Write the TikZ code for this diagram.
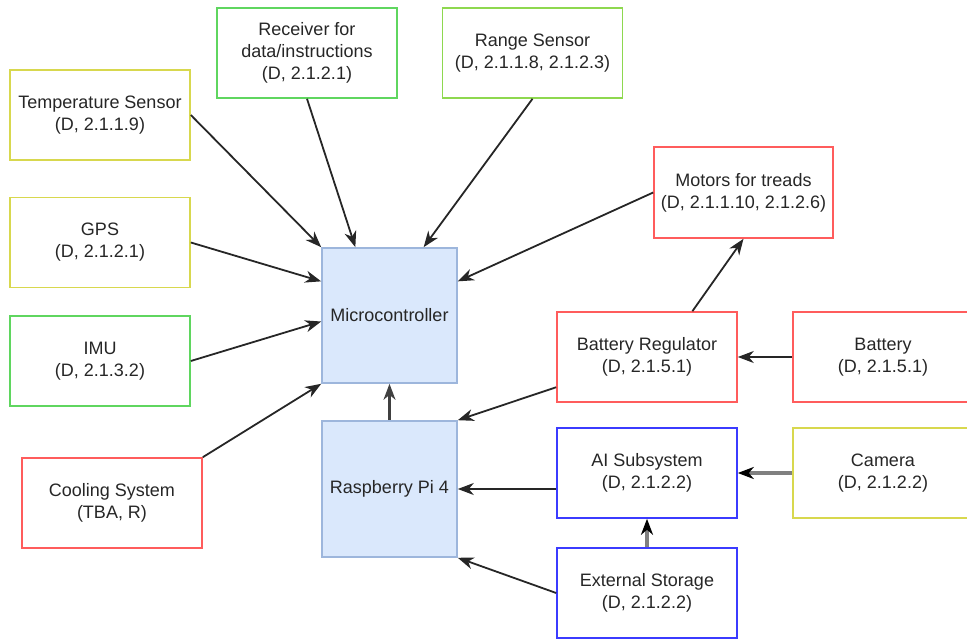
\documentclass[tikz,border=0pt]{standalone}
\usepackage{fontspec}
\setmainfont{Liberation Sans}
\usetikzlibrary{arrows.meta, positioning, calc}

\definecolor{ylwline}{HTML}{D8D84E}
\definecolor{grnline}{HTML}{5FD65F}
\definecolor{limeline}{HTML}{8ED84F}
\definecolor{redline}{HTML}{FF5C5C}
\definecolor{bluline}{HTML}{3B3BFF}
\definecolor{mcufill}{HTML}{DAE8FC}
\definecolor{mculine}{HTML}{9DB6DC}
\definecolor{txt}{HTML}{262626}

\tikzset{
    block/.style={draw, line width=1.6pt, minimum width=180pt, minimum height=90pt,
        inner sep=0pt, align=center, text=txt, font=\fontsize{18}{22}\selectfont},
    core/.style={block, fill=mcufill, draw=mculine, minimum width=135pt, minimum height=135pt},
    arr/.style={-{Stealth[length=16pt, width=12pt, inset=5pt]}, line width=1.8pt, draw=black!85},
    thickarr/.style={-{Stealth[length=16pt, width=12pt, inset=5pt, color=black]}, line width=3.5pt, draw=black!50},
}

\begin{document}
\begin{tikzpicture}[x=1pt, y=-1pt]
    \useasboundingbox (0, 0) rectangle (967, 639);

    % left column
    \node[block, draw=ylwline] (temp) at (100, 115) {Temperature Sensor\\(D, 2.1.1.9)};
    \node[block, draw=ylwline] (gps) at (100, 242.5) {GPS\\(D, 2.1.2.1)};
    \node[block, draw=grnline] (imu) at (100, 361) {IMU\\(D, 2.1.3.2)};
    \node[block, draw=redline] (cool) at (112, 503) {Cooling System\\(TBA, R)};

    % top row
    \node[block, draw=grnline] (recv) at (307, 53) {Receiver for\\data/instructions\\(D, 2.1.2.1)};
    \node[block, draw=limeline] (range) at (532.5, 53) {Range Sensor\\(D, 2.1.1.8, 2.1.2.3)};

    % centre
    \node[core] (mcu) at (389.5, 315.5) {Microcontroller};
    \node[core, minimum height=136pt] (rpi) at (389.5, 489) {Raspberry Pi 4};

    % right side
    \node[block, draw=redline, minimum width=179pt, minimum height=91pt] (motors) at (743.5, 192.5) {Motors for treads\\(D, 2.1.1.10, 2.1.2.6)};
    \node[block, draw=redline] (reg) at (647, 357) {Battery Regulator\\(D, 2.1.5.1)};
    \node[block, draw=redline] (batt) at (883, 357) {Battery\\(D, 2.1.5.1)};
    \node[block, draw=bluline] (ai) at (647, 473) {AI Subsystem\\(D, 2.1.2.2)};
    \node[block, draw=ylwline] (cam) at (883, 473) {Camera\\(D, 2.1.2.2)};
    \node[block, draw=bluline] (ext) at (647, 593) {External Storage\\(D, 2.1.2.2)};

    % into the microcontroller
    \draw[arr] (temp.east) -- (mcu.north west);
    \draw[arr] (recv.south) -- ($(mcu.north west)!0.25!(mcu.north east)$);
    \draw[arr] (range.south) -- ($(mcu.north west)!0.75!(mcu.north east)$);
    \draw[arr] (gps.east) -- ($(mcu.north west)!0.25!(mcu.south west)$);
    \draw[arr] (imu.east) -- ($(mcu.west) + (0, 6)$);
    \draw[arr] (cool.north east) -- (mcu.south west);
    \draw[arr] (motors.west) -- ($(mcu.north east)!0.25!(mcu.south east)$);
    \draw[arr, draw=black!75, line width=2.2pt] (rpi.north) -- (mcu.south);

    % power
    \draw[arr] ($(reg.north west)!0.75!(reg.north east)$) -- (motors.south);
    \draw[arr] (batt.west) -- (reg.east);
    \draw[arr] ($(reg.north west)!0.83!(reg.south west)$) -- (rpi.north east);

    % vision and storage
    \draw[arr] (ai.west |- rpi.east) -- (rpi.east);
    \draw[arr] (ext.west) -- (rpi.south east);
    \draw[thickarr] (cam.west) -- (ai.east);
    \draw[thickarr] (ext.north) -- (ai.south);
\end{tikzpicture}
\end{document}
